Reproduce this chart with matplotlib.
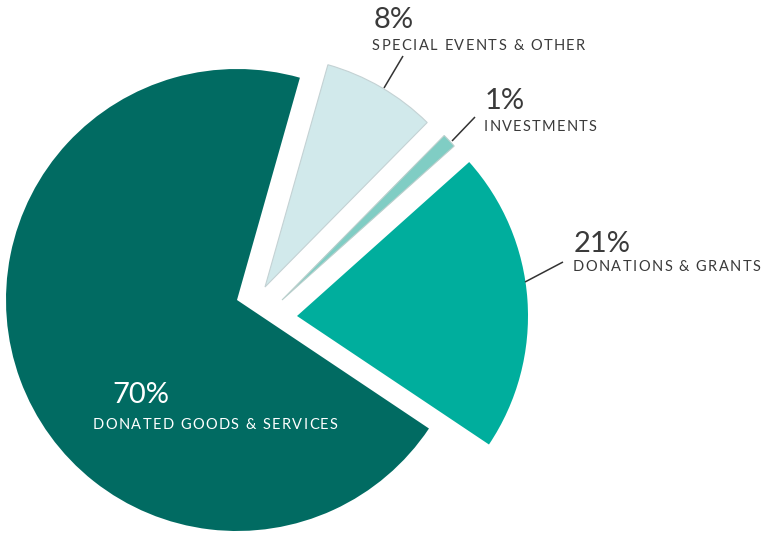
import matplotlib
matplotlib.use("Agg")
import matplotlib.pyplot as plt
import matplotlib.font_manager as fm
from matplotlib.ft2font import FT2Font

# ---- data ----
categories = ["DONATED GOODS & SERVICES", "DONATIONS & GRANTS", "INVESTMENTS", "SPECIAL EVENTS & OTHER"]
values = [70, 21, 1, 8]
pct_labels = ["70%", "21%", "1%", "8%"]

# ---- style / layout ----
colors = ["#016B62", "#00AE9D", "#80CDC4", "#D1E9EB"]
edge_colors = ["none", "none", "#B9CFCC", "#C4D2D4"]
W, H = 767, 534
radius = 231
wedge_apex_px = [(237, 300), (297, 316), (282, 300), (265, 287)]
pct_pos_px = [(112, 403), (574, 252), (485, 109), (374, 28)]
lab_pos_px = [(93, 429), (573, 271), (484, 131), (372, 50)]
lab_tracking = [1.4, 1.45, 1.25, 1.5]
text_colors = ["white", "#3A3A3A", "#3A3A3A", "#3A3A3A"]
leaders_px = [None, ((563, 262), (525, 282)), ((475, 117), (452, 141)), ((403, 56), (384, 88))]
FONT = "Lato"
pct_size = 21
lab_size = 10.5

fig = plt.figure(figsize=(W / 100, H / 100), dpi=100)
ax = fig.add_axes([0, 0, 1, 1])

wedges, _ = ax.pie(values, colors=colors, startangle=74.2, counterclock=True,
                   radius=radius, center=(0, 0),
                   wedgeprops=dict(linewidth=0.8))
for w, (px, py), ec in zip(wedges, wedge_apex_px, edge_colors):
    w.set_center((px, H - py))
    w.set_edgecolor(ec)
    if ec == "none":
        w.set_linewidth(0)

ax.set_xlim(0, W)
ax.set_ylim(0, H)
ax.set_aspect("equal")
ax.axis("off")

font_path = fm.findfont(fm.FontProperties(family=FONT))
ftf = FT2Font(font_path)
ftf.set_size(lab_size, 100)


def tracked_text(x, y, s, color, tracking):
    for ch in s:
        ax.text(x, y, ch, fontsize=lab_size, family=FONT, color=color,
                ha="left", va="baseline")
        g = ftf.load_char(ord(ch))
        x += g.linearHoriAdvance / 65536.0 + tracking


for i in range(len(values)):
    px, py = pct_pos_px[i]
    ax.text(px, H - py, pct_labels[i], fontsize=pct_size, family=FONT,
            color=text_colors[i], ha="left", va="baseline")
    lx, ly = lab_pos_px[i]
    tracked_text(lx, H - ly, categories[i], text_colors[i], lab_tracking[i])
    if leaders_px[i] is not None:
        (x0, y0), (x1, y1) = leaders_px[i]
        ax.plot([x0, x1], [H - y0, H - y1], color="#333333", lw=1.1,
                solid_capstyle="butt")

fig.savefig("out.png", dpi=100)
